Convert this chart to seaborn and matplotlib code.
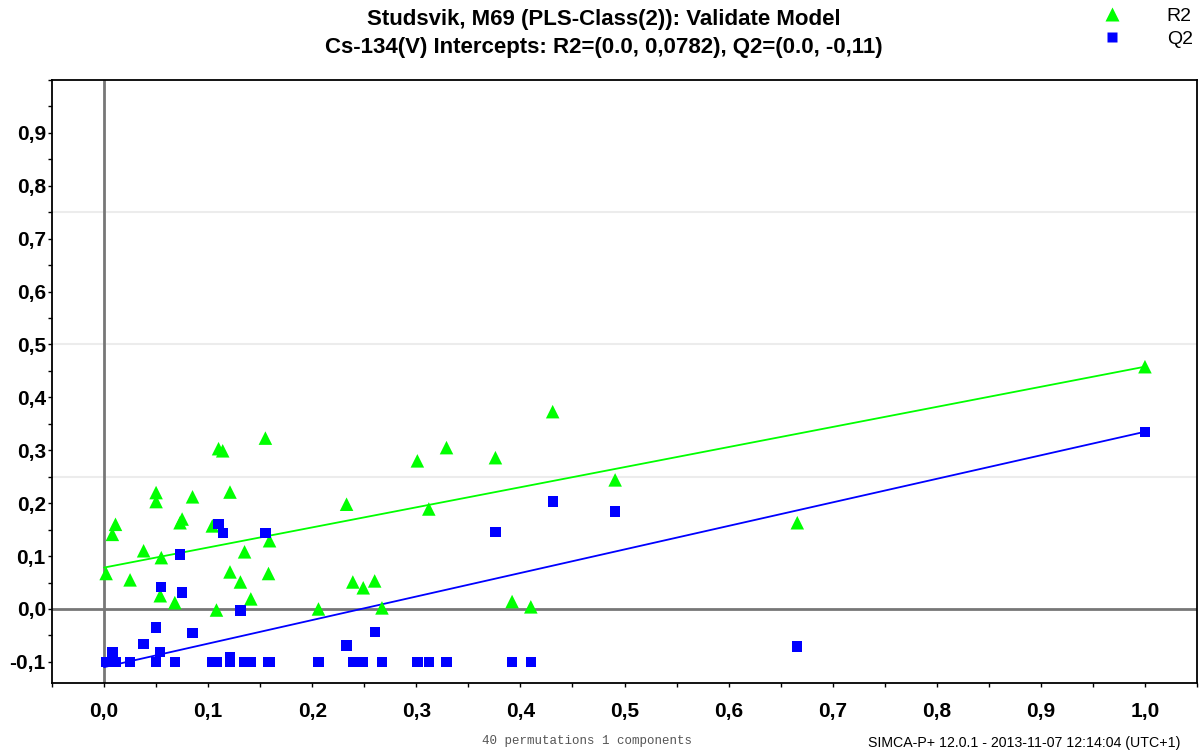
import numpy as np
import pandas as pd
import matplotlib
matplotlib.use("Agg")
import matplotlib.pyplot as plt
import seaborn as sns
from matplotlib.ticker import MultipleLocator, FuncFormatter
from matplotlib.lines import Line2D
from matplotlib import font_manager

# ---------------- data ----------------
# correlation between permuted and original Y (x axis)
corr = [0.002, 0.008, 0.011, 0.025, 0.038, 0.050, 0.050, 0.055, 0.054, 0.068,
        0.073, 0.075, 0.085, 0.104, 0.110, 0.114, 0.108, 0.121, 0.121, 0.131,
        0.135, 0.141, 0.155, 0.159, 0.158, 0.206, 0.233, 0.239, 0.249, 0.260,
        0.267, 0.301, 0.312, 0.329, 0.376, 0.392, 0.410, 0.431, 0.491, 0.666,
        1.000]
r2 = [0.067, 0.141, 0.160, 0.055, 0.110, 0.220, 0.203, 0.097, 0.025, 0.012,
      0.163, 0.170, 0.212, 0.157, 0.303, 0.299, -0.002, 0.221, 0.070, 0.051,
      0.108, 0.019, 0.323, 0.129, 0.067, 0.000, 0.198, 0.051, 0.040, 0.053,
      0.002, 0.280, 0.189, 0.305, 0.286, 0.014, 0.004, 0.373, 0.244, 0.163,
      0.458]
q2 = [-0.100, -0.081, -0.100, -0.100, -0.066, -0.035, -0.100, 0.042, -0.081, -0.100,
      0.103, 0.031, -0.045, -0.100, 0.161, 0.144, -0.100, -0.091, -0.100, -0.003,
      -0.100, -0.100, 0.144, -0.100, -0.100, -0.100, -0.069, -0.100, -0.100, -0.043,
      -0.100, -0.100, -0.100, -0.100, 0.146, -0.100, -0.100, 0.203, 0.184, -0.071,
      0.335]
r2_intercept = 0.0782
q2_intercept = -0.11
series_labels = ["R2", "Q2"]
y_tick_values = [-0.1, 0.0, 0.1, 0.2, 0.3, 0.4, 0.5, 0.6, 0.7, 0.8, 0.9]
grid_values = [0.25, 0.5, 0.75]
title_line1 = "Studsvik, M69 (PLS-Class(2)): Validate Model"
title_line2 = "Cs-134(V) Intercepts: R2=(0.0, 0,0782), Q2=(0.0, -0,11)"
footer_left = "40 permutations 1 components"
footer_right = "SIMCA-P+ 12.0.1 - 2013-11-07 12:14:04 (UTC+1)"

# ---------------- style ----------------
sns.set_theme(style="white")
plt.rcParams['font.family'] = ['Liberation Sans', 'DejaVu Sans']
plt.rcParams['text.color'] = 'black'
plt.rcParams['xtick.color'] = 'black'
plt.rcParams['ytick.color'] = 'black'
plt.rcParams['xtick.labelcolor'] = 'black'
plt.rcParams['ytick.labelcolor'] = 'black'

available = {f.name for f in font_manager.fontManager.ttflist}
narrow_font = 'Liberation Sans Narrow' if 'Liberation Sans Narrow' in available else 'Liberation Sans'
mono_font = 'Liberation Mono' if 'Liberation Mono' in available else 'DejaVu Sans Mono'

GREEN = '#00ff00'
BLUE = '#0000ff'

W, H = 1201, 751
fig = plt.figure(figsize=(W / 100, H / 100), dpi=100)
ax = fig.add_axes([52 / W, 1 - 683 / H, (1197 - 52) / W, (683 - 80) / H])

df = pd.DataFrame({'corr': corr, 'R2': r2, 'Q2': q2})

# grid lines and zero axes
for gy in grid_values:
    ax.axhline(gy, color='#ececec', lw=1.5, zorder=0)
ax.axhline(0, color='#777777', lw=2, zorder=1)
ax.axvline(0, color='#777777', lw=2, zorder=1)

# regression lines: intercept -> original model point
sns.lineplot(x=[0, corr[-1]], y=[r2_intercept, r2[-1]], color=GREEN, lw=1.3,
             ax=ax, zorder=2, legend=False)
sns.lineplot(x=[0, corr[-1]], y=[q2_intercept, q2[-1]], color=BLUE, lw=1.3,
             ax=ax, zorder=2, legend=False)

sns.scatterplot(data=df, x='corr', y='R2', marker='^', s=95, color=GREEN,
                edgecolor='none', linewidth=0, ax=ax, zorder=3, legend=False)
sns.scatterplot(data=df, x='corr', y='Q2', marker='s', s=55, color=BLUE,
                edgecolor='none', linewidth=0, ax=ax, zorder=4, legend=False)

ax.set_xlim(-0.05, 1.05)
ax.set_ylim(-0.14, 1.0)
ax.set_xlabel('')
ax.set_ylabel('')

def comma_fmt(v, pos):
    if abs(v) < 1e-9:
        v = 0.0
    return f"{v:.1f}".replace('.', ',')

ax.xaxis.set_major_locator(MultipleLocator(0.1))
ax.xaxis.set_minor_locator(MultipleLocator(0.05))
ax.set_yticks(y_tick_values)
ax.yaxis.set_minor_locator(MultipleLocator(0.05))
ax.xaxis.set_major_formatter(FuncFormatter(comma_fmt))
ax.yaxis.set_major_formatter(FuncFormatter(comma_fmt))

ax.tick_params(which='both', direction='out', length=3, width=1, color='black',
               left=True, bottom=True, top=False, right=False)
ax.tick_params(axis='x', which='major', pad=11, labelsize=15, labelcolor='black')
ax.tick_params(axis='y', which='major', pad=1.5, labelsize=15, labelcolor='black')
for lab in ax.get_xticklabels() + ax.get_yticklabels():
    lab.set_fontweight('bold')

for sp in ax.spines.values():
    sp.set_color('black')
    sp.set_linewidth(1.3)
    sp.set_visible(True)

# titles
fig.text(604 / W, 1 - 20 / H, title_line1, ha='center', va='center',
         fontsize=16, fontweight='bold', color='black')
fig.text(604 / W, 1 - 47 / H, title_line2, ha='center', va='center',
         fontsize=16, fontweight='bold', color='black')

# legend
handles = [Line2D([], [], linestyle='none', marker='^', markersize=9.5,
                  markerfacecolor=GREEN, markeredgecolor='none'),
           Line2D([], [], linestyle='none', marker='s', markersize=7,
                  markerfacecolor=BLUE, markeredgecolor='none')]
leg = fig.legend(handles, series_labels, loc='upper left',
                 bbox_to_anchor=(1100 / W, 1 - 7 / H), frameon=False, fontsize=14,
                 handlelength=1.2, handletextpad=2.23, labelspacing=0.28,
                 borderaxespad=0, borderpad=0)
for t in leg.get_texts():
    t.set_color('black')

# footers
fig.text(587 / W, 1 - 741 / H, footer_left, ha='center', va='center',
         fontsize=9, family=mono_font, color='#555555')
fig.text(1024 / W, 1 - 743 / H, footer_right, ha='center', va='center',
         fontsize=10.2, family=narrow_font, color='black')

fig.savefig('out.png', dpi=100)
